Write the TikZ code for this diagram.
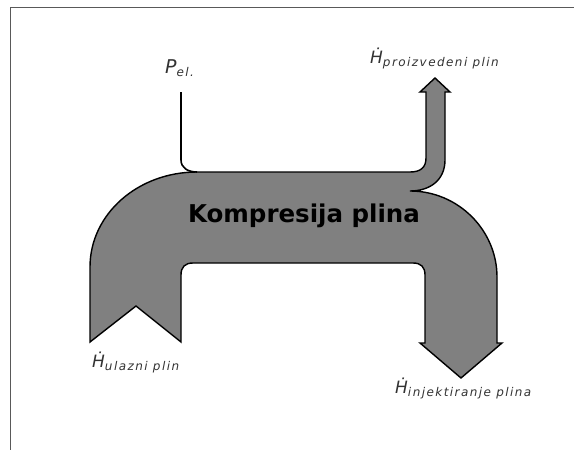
\documentclass[tikz,border=0pt]{standalone}
\usepackage{fontspec}
\setmainfont{DejaVu Sans}
\newfontfamily\subfont{DejaVu Sans}[LetterSpace=12]
\usepackage{tikz}

\newcommand\flowlabel[3]{{\fontsize{#3}{#3}\selectfont\itshape #1}\raisebox{-3pt}{\subfont\fontsize{12}{14}\selectfont\itshape #2}}

\tikzset{
	flow/.style={fill=black!50, draw=black, line width=1.4pt, line join=miter},
	lbl/.style={anchor=base west, inner sep=0pt, text=black!80}
}

\begin{document}
\begin{tikzpicture}[x=1pt,y=-1pt]
	\useasboundingbox (0,0) rectangle (574,450);
	\draw[black!65, line width=1pt] (10,450) -- (10,7) -- (574,7);
	% the stream
	\draw[flow] (90,342) -- (90,267) .. controls (90,214) and (138,172) .. (197,172) -- (410,172)
		.. controls (420,172) and (426,168) .. (426,158) -- (426,92) -- (420,92) -- (435,78) -- (450,92) -- (445,92)
		-- (445,160) .. controls (445,180) and (430,191) .. (410,191)
		.. controls (458,191) and (497,230) .. (497,277) -- (497,343) -- (502,343) -- (461,378) -- (420,343) -- (425,343)
		-- (425,275) .. controls (425,267) and (421,263) .. (413,263) -- (193,263)
		.. controls (185,263) and (181,267) .. (181,275) -- (181,342) -- (136,306) -- cycle;
	\coordinate (elin) at (181,92);
	\coordinate (elout) at (197,172);
	\draw[line width=1.6pt] (elin) -- (181,160) .. controls (181,168) and (188,172) .. (elout);
	\node[font=\bfseries\fontsize{24.5}{28}\selectfont] (komp) at (304,216) {Kompresija plina};
	\node[lbl] (pel) at (165,73) {\flowlabel{P}{el.}{19}};
	\node[lbl] (hout) at (370,63) {\flowlabel{\.H}{proizvedeni plin}{17}};
	\node[lbl] (hin) at (92,367) {\flowlabel{\.H}{ulazni plin}{17}};
	\node[lbl] (hinj) at (395,393) {\flowlabel{\.H}{injektiranje plina}{17}};
\end{tikzpicture}
\end{document}
